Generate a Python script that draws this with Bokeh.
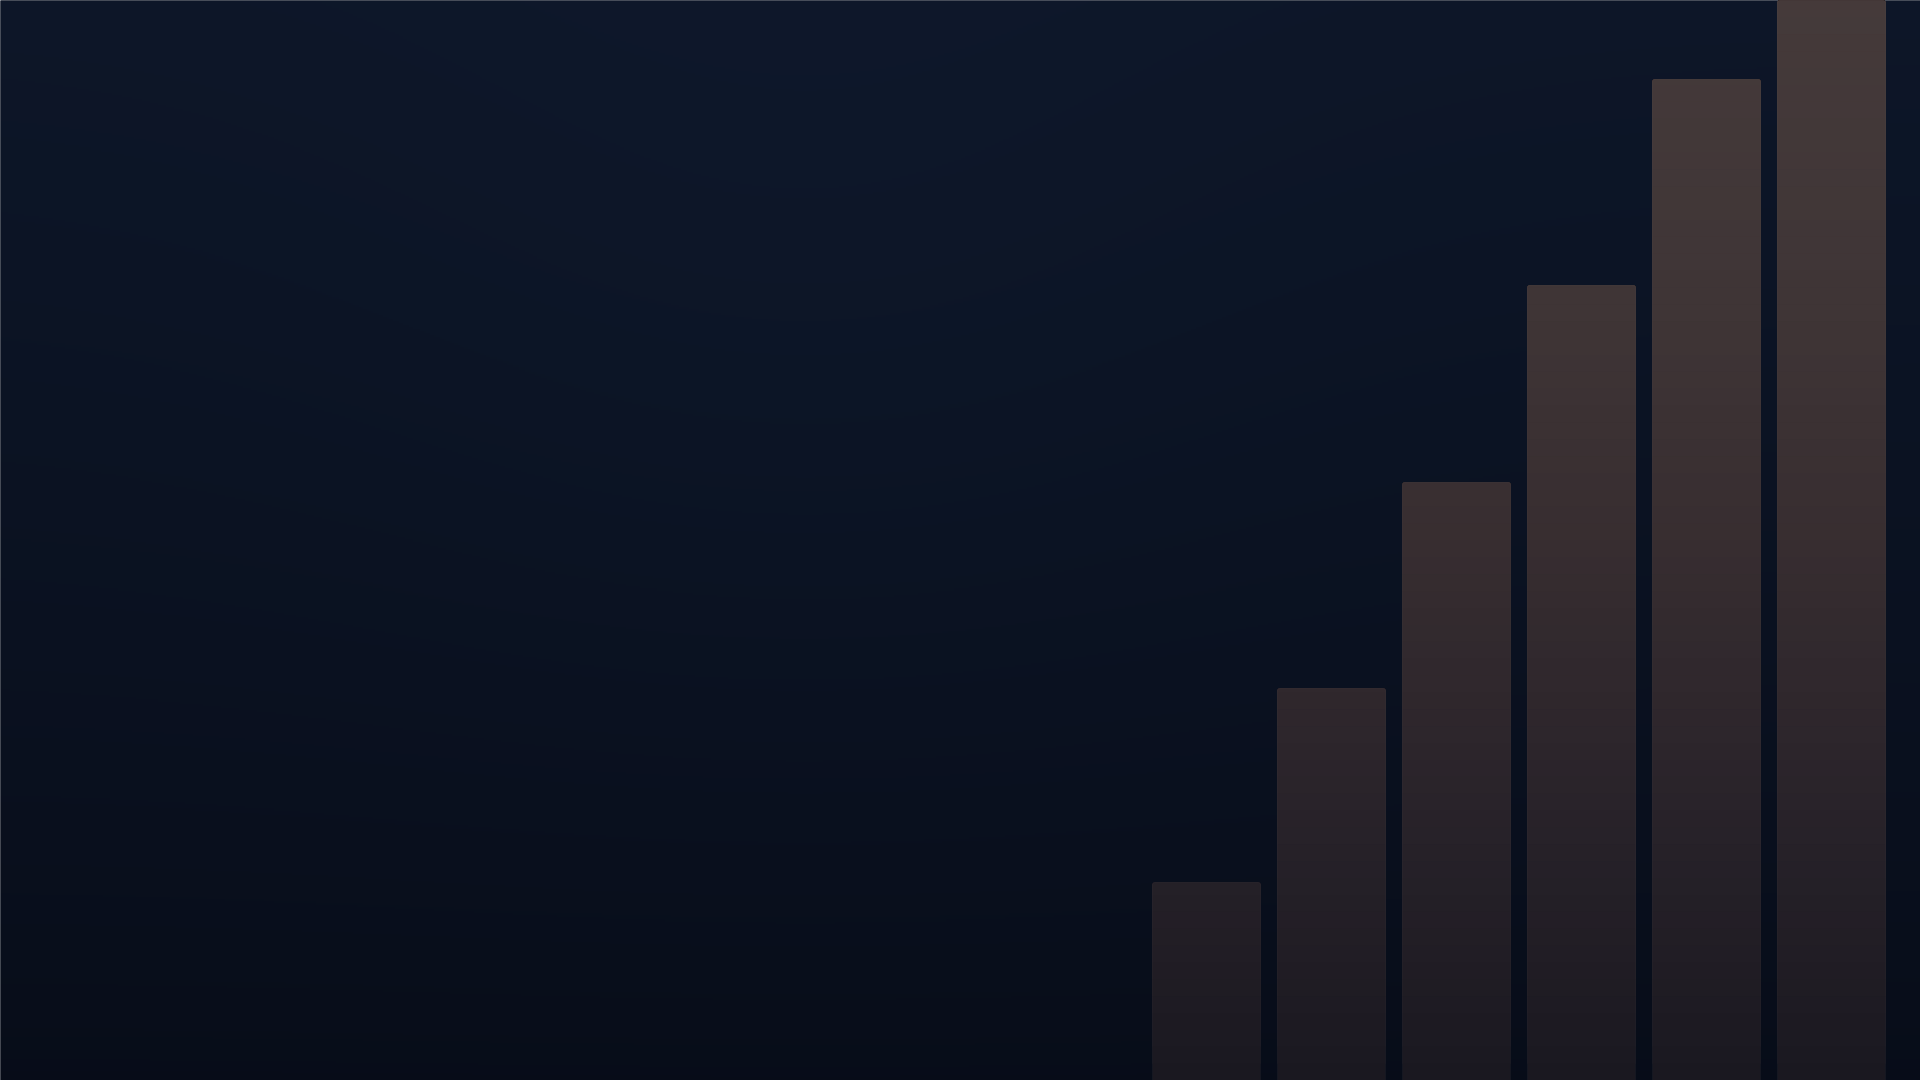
import numpy as np

from bokeh.embed import file_html
from bokeh.plotting import figure
from bokeh.resources import INLINE

# six bars, left to right
positions = [0, 1, 2, 3, 4, 5]
values = [20.0, 39.6, 60.4, 80.3, 101.1, 121.0]

# vertical colour stops of the bar fill (fraction of plot height from bottom)
bar_stops = [0.0, 0.26, 0.49, 0.72, 1.0]
bar_colors = ["#1a1820", "#29232a", "#372d30", "#3f3536", "#453a3a"]

# background colours
bg_bottom = "#070c18"
bg_top = "#0d1628"

W, H = 1920, 1080
Y_LO, Y_HI = 0.0, 109.09
X_LO, X_HI = -9.648, 5.712
BAR_W = 0.864


def rgb(h):
    h = h.lstrip("#")
    return np.array([int(h[i:i + 2], 16) for i in (0, 2, 4)], dtype=float)


def band_color(t):
    stops = np.array(bar_stops)
    cols = np.array([rgb(c) for c in bar_colors])
    c = [np.interp(t, stops, cols[:, k]) for k in range(3)]
    return "#%02x%02x%02x" % tuple(int(round(v)) for v in c)


def background(w, h):
    ty = np.linspace(0, 1, h)[:, None]
    tx = np.linspace(0, 1, w)[None, :]
    lo, hi = rgb(bg_bottom), rgb(bg_top)
    d2 = ((tx - 0.42) * 1.78) ** 2 + (ty - 0.75) ** 2
    glow = np.exp(-d2 / 0.2)
    img = np.empty((h, w), dtype=np.uint32)
    view = img.view(dtype=np.uint8).reshape((h, w, 4))
    extra = [1.0, 2.0, 3.0]
    for k in range(3):
        ch = lo[k] + (hi[k] - lo[k]) * ty ** 0.8 + extra[k] * glow
        view[:, :, k] = np.clip(np.round(ch), 0, 255).astype(np.uint8)
    view[:, :, 3] = 255
    return img


p = figure(
    width=W,
    height=H,
    x_range=(X_LO, X_HI),
    y_range=(Y_LO, Y_HI),
    toolbar_location=None,
    tools="",
    min_border=0,
    output_backend="svg")
p.axis.visible = False
p.grid.visible = False
p.outline_line_color = None
p.background_fill_color = bg_bottom
p.border_fill_color = bg_top

# background slightly larger than the visible range so no edge shows
pad_x, pad_y = 0.1, 0.5
p.image_rgba(image=[background(W // 2, H // 2)], x=X_LO - pad_x, y=Y_LO - pad_y,
             dw=X_HI - X_LO + 2 * pad_x, dh=Y_HI - Y_LO + 2 * pad_y)

# bar fill: bands painted bottom-up, each reaching to the bar top
n_bands = 64
for i in range(n_bands):
    lo = Y_HI * i / n_bands
    xs = [x for x, v in zip(positions, values) if v > lo]
    ts = [v for v in values if v > lo]
    if not xs:
        break
    p.vbar(x=xs, bottom=lo, top=ts, width=BAR_W,
           fill_color=band_color((i + 0.5) / n_bands), line_color=None,
           border_radius=(2, 2, 0, 0))

# faint edge
p.vbar(x=positions, bottom=0, top=values, width=BAR_W, fill_color=None,
       line_color="#ffffff", line_alpha=0.025, line_width=1,
       border_radius=(2, 2, 0, 0))

open("out.html", "w").write(file_html(p, INLINE))
